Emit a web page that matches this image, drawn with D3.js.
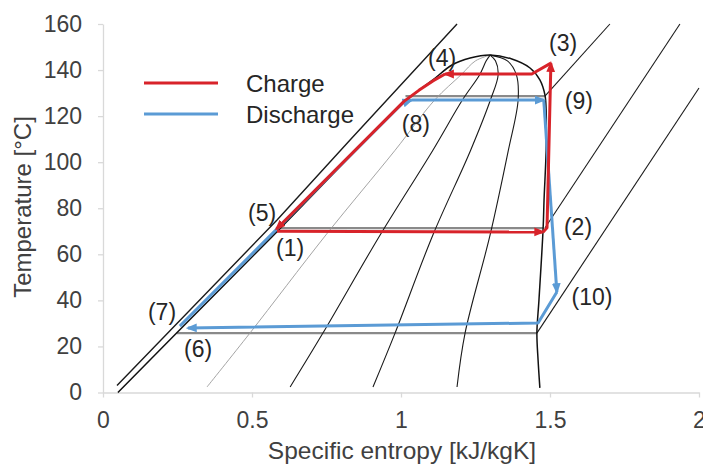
<!DOCTYPE html>
<html>
<head>
<meta charset="utf-8">
<script src="https://cdn.jsdelivr.net/npm/d3@7"></script>
<style>
    body { margin: 0; background: #fff; }
    svg text { font-family: "Liberation Sans", Arial, sans-serif; }
</style>
</head>
<body>
<div id="myGraph"></div>
<script>
// T-s diagram, charge (heat pump) and discharge (ORC) cycles
// every point is [specific entropy kJ/kgK, temperature degC]

const xTicks = [0, 0.5, 1, 1.5, 2];
const yTicks = [0, 20, 40, 60, 80, 100, 120, 140, 160];

// saturation dome
const satLiquid = [[0.050, 0], [0.247, 25.8], [0.589, 70.5], [1.020, 127.0], [1.107, 135.7], [1.171, 142.2], [1.232, 145.2], [1.299, 146.5]];
const satVapor = [[1.299, 146.5], [1.372, 144.8], [1.433, 140.9], [1.466, 135.7], [1.483, 129.2], [1.487, 122.7], [1.487, 105.3], [1.480, 83.6], [1.477, 71.4], [1.463, 40.2], [1.456, 25.8], [1.460, 14.1], [1.466, 2.0]];

// vapour quality lines inside the dome (0.2 is the faint one)
const quality02 = [[0.349, 2.4], [0.493, 25.8], [0.748, 68.4], [0.979, 105], [1.113, 127], [1.202, 138], [1.250, 144], [1.299, 146.5]];
const quality04 = [[0.628, 2.4], [0.738, 25.8], [0.930, 68.4], [1.106, 105], [1.206, 127], [1.264, 138], [1.286, 144], [1.299, 146.5]];
const quality06 = [[0.906, 2.4], [0.980, 25.8], [1.107, 68.4], [1.233, 105], [1.300, 127], [1.326, 138], [1.317, 144], [1.299, 146.5]];
const quality08 = [[1.188, 2.4], [1.215, 25.8], [1.299, 68.4], [1.360, 105], [1.393, 127], [1.387, 138], [1.357, 144], [1.299, 146.5]];

// isobars: two phase part (grey) and superheated part (black)
const isobarLowFlat = [[0.247, 25.8], [1.456, 25.8]];
const isobarLowGas = [[1.456, 25.8], [2.0, 132.2]];
const isobarMidFlat = [[0.595, 71.4], [1.477, 71.4]];
const isobarMidGas = [[1.483, 71.4], [1.936, 160]];
const isobarHighFlat = [[1.015, 128.7], [1.483, 128.7]];
const isobarHighGas = [[1.483, 128.7], [1.701, 160]];
const isobarLiquid = [[0.047, 3.0], [0.584, 74.9], [0.829, 109.6], [1.188, 160]];

// charge cycle 1-2-3-4-5
const chargeSegments = [
    [[0.584, 70.0], [1.477, 69.7]],
    [[1.477, 69.7], [1.490, 71.5], [1.503, 143.0]],
    [[1.503, 143.0], [1.439, 138.3], [1.148, 138.3]],
    [[1.148, 138.3], [1.107, 135.3], [1.060, 131.2], [1.010, 126.4], [0.582, 71.0]]
];

// discharge cycle 6-7-8-9-10
const dischargeSegments = [
    [[0.258, 28.8], [1.005, 125.6], [1.035, 127.0]],
    [[1.035, 127.0], [1.479, 127.0]],
    [[1.479, 127.0], [1.523, 43.6]],
    [[1.523, 43.6], [1.460, 30.2], [0.285, 28.0]]
];

const pointLabels = [
    {name: '(1)', s: 0.628, T: 62.7},
    {name: '(2)', s: 1.594, T: 71.9},
    {name: '(3)', s: 1.544, T: 151.8},
    {name: '(4)', s: 1.138, T: 145.2},
    {name: '(5)', s: 0.534, T: 78.0},
    {name: '(6)', s: 0.319, T: 18.9},
    {name: '(7)', s: 0.198, T: 35.0},
    {name: '(8)', s: 1.050, T: 116.6},
    {name: '(9)', s: 1.597, T: 126.6},
    {name: '(10)', s: 1.641, T: 41.5}
];

const legendItems = ['Charge', 'Discharge'];

const width = 703;
const height = 466;
const red = '#d8232a';
const blue = '#5b9bd5';

const xScale = d3.scaleLinear().domain([0, 2]).range([103, 699]);
const yScale = d3.scaleLinear().domain([0, 160]).range([392.5, 24]);

let svg = d3.select('#myGraph')
    .append('svg')
        .attr('width', width)
        .attr('height', height);

// axes
let xAxis = svg.append('g')
    .attr('transform', `translate(0, ${yScale(0)})`)
    .call(d3.axisBottom(xScale).tickValues(xTicks).tickSize(5).tickSizeOuter(0).tickPadding(14).tickFormat(d3.format('~g')));

let yAxis = svg.append('g')
    .attr('transform', `translate(${xScale(0)}, 0)`)
    .call(d3.axisLeft(yScale).tickValues(yTicks).tickSize(5).tickSizeOuter(0).tickPadding(16));

[xAxis, yAxis].forEach((ax) => {
    ax.select('.domain').attr('stroke', '#d9d9d9').attr('stroke-width', 1.3);
    ax.selectAll('.tick line').attr('stroke', '#d9d9d9').attr('stroke-width', 1.3);
    ax.selectAll('.tick text')
        .attr('fill', '#404040')
        .style('font-size', '23px')
        .style('font-family', '"Liberation Sans", Arial, sans-serif');
});

svg.append('text')
    .attr('x', 402)
    .attr('y', 459)
    .attr('text-anchor', 'middle')
    .attr('fill', '#404040')
    .style('font-size', '24.5px')
    .text('Specific entropy [kJ/kgK]');

svg.append('text')
    .attr('transform', 'translate(31, 207) rotate(-90)')
    .attr('text-anchor', 'middle')
    .attr('fill', '#404040')
    .style('font-size', '24px')
    .text('Temperature [°C]');

// arrow heads
let defs = svg.append('defs');
[['arrowRed', red], ['arrowBlue', blue]].forEach((m) => {
    defs.append('marker')
        .attr('id', m[0])
        .attr('markerUnits', 'userSpaceOnUse')
        .attr('viewBox', '0 0 10 10')
        .attr('refX', 8)
        .attr('refY', 5)
        .attr('markerWidth', 11)
        .attr('markerHeight', 11)
        .attr('orient', 'auto')
        .append('path')
            .attr('d', 'M0,1 L10,5 L0,9 Z')
            .attr('fill', m[1]);
});

const smooth = d3.line()
    .x((d) => xScale(d[0]))
    .y((d) => yScale(d[1]))
    .curve(d3.curveCatmullRom.alpha(0.5));

const straight = d3.line()
    .x((d) => xScale(d[0]))
    .y((d) => yScale(d[1]));

let g = svg.append('g').attr('fill', 'none');

// grey two phase isobars
[isobarLowFlat, isobarMidFlat, isobarHighFlat].forEach((pts) => {
    g.append('path').attr('d', straight(pts)).attr('stroke', '#8a8a8a').attr('stroke-width', 2.2);
});

// quality lines
g.append('path').attr('d', smooth(quality02)).attr('stroke', '#9a9a9a').attr('stroke-width', 0.9);
[quality04, quality06, quality08].forEach((pts) => {
    g.append('path').attr('d', smooth(pts)).attr('stroke', '#1a1a1a').attr('stroke-width', 1.1);
});

// superheated and liquid isobars
[isobarLowGas, isobarMidGas, isobarHighGas].forEach((pts) => {
    g.append('path').attr('d', straight(pts)).attr('stroke', '#1a1a1a').attr('stroke-width', 1.1);
});
g.append('path').attr('d', straight(isobarLiquid)).attr('stroke', '#1a1a1a').attr('stroke-width', 1.4);

// dome
g.append('path')
    .attr('d', smooth(satLiquid.concat(satVapor.slice(1))))
    .attr('stroke', '#111')
    .attr('stroke-width', 1.5);

// discharge then charge on top
dischargeSegments.forEach((seg) => {
    g.append('path')
        .attr('d', straight(seg))
        .attr('stroke', blue)
        .attr('stroke-width', 3)
        .attr('stroke-linejoin', 'round')
        .attr('marker-end', 'url(#arrowBlue)');
});

chargeSegments.forEach((seg) => {
    g.append('path')
        .attr('d', straight(seg))
        .attr('stroke', red)
        .attr('stroke-width', 3)
        .attr('stroke-linejoin', 'round')
        .attr('marker-end', 'url(#arrowRed)');
});

// state point labels
svg.selectAll('.pointLabel')
    .data(pointLabels)
    .enter()
        .append('text')
            .attr('class', 'pointLabel')
            .attr('x', (d) => xScale(d.s))
            .attr('y', (d) => yScale(d.T))
            .attr('text-anchor', 'middle')
            .attr('dominant-baseline', 'central')
            .attr('fill', '#262626')
            .style('font-size', '23px')
            .text((d) => d.name);

// legend
let legend = svg.append('g').attr('transform', 'translate(144, 83)');
legendItems.forEach((name, i) => {
    legend.append('line')
        .attr('x1', 0).attr('x2', 74)
        .attr('y1', i * 31).attr('y2', i * 31)
        .attr('stroke', i === 0 ? red : blue)
        .attr('stroke-width', 3);
    legend.append('text')
        .attr('x', 102)
        .attr('y', i * 31)
        .attr('dominant-baseline', 'central')
        .attr('fill', '#262626')
        .style('font-size', '24px')
        .text(name);
});
</script>
</body>
</html>
